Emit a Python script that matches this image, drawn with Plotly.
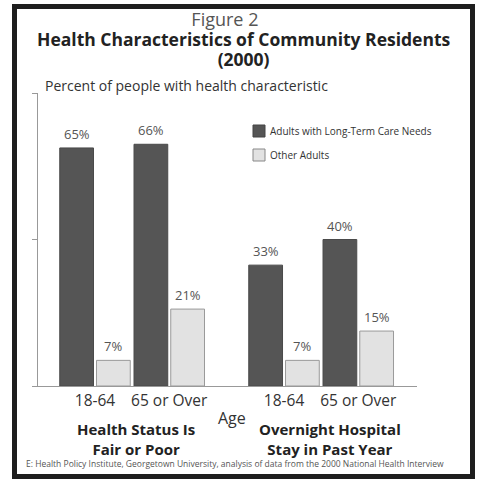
import plotly.graph_objects as go

# Chart data
age_groups = ["18-64", "65 or Over", "18-64", "65 or Over"]
measures = ["Health Status Is<br>Fair or Poor", "Overnight Hospital<br>Stay in Past Year"]
series_names = ["Adults with Long-Term Care Needs", "Other Adults"]
ltc_needs = [65, 66, 33, 40]
other_adults = [7, 21, 7, 15]
y_ticks = [0, 40, 80]

W, H = 477, 484
ML, MR, MT, MB = 38, 60, 93, 98
PW, PH = W - ML - MR, H - MT - MB


def fx(x):
    """Pixel x -> paper x."""
    return (x - ML) / PW


def fy(y):
    """Pixel y -> paper y."""
    return (H - MB - y) / PH


# category centres: two age groups per measure, measures separated by a wider gap
xpos = [g * 2.52 + i * 0.99 for g in range(len(measures)) for i in range(2)]

DARK = "#555555"
LIGHT = "#e2e2e2"
FONT = "Open Sans"

fig = go.Figure()
fig.add_trace(go.Bar(
    x=xpos, y=ltc_needs, name=series_names[0],
    width=0.45, offset=-0.47,
    marker=dict(color=DARK, line=dict(color="#4a4a4a", width=1)),
    showlegend=False,
))
fig.add_trace(go.Bar(
    x=xpos, y=other_adults, name=series_names[1],
    width=0.45, offset=0.02,
    marker=dict(color=LIGHT, line=dict(color="#9a9a9a", width=1)),
    showlegend=False,
))

annotations = []
# value labels above each bar
for xc, v in zip(xpos, ltc_needs):
    annotations.append(dict(x=xc - 0.245, y=v, xref="x", yref="y", text=f"{v}%",
                            yanchor="bottom", yshift=3,
                            font=dict(size=13, color="#555555")))
for xc, v in zip(xpos, other_adults):
    annotations.append(dict(x=xc + 0.245, y=v, xref="x", yref="y", text=f"{v}%",
                            yanchor="bottom", yshift=3,
                            font=dict(size=13, color="#555555")))

# three-line heading drawn as one text block; the figure number sits a little left of centre
heading = (
    "<span style='font-size:18px;color:#555555'>Figure 2" + "&nbsp;" * 8 + "</span><br>"
    "<b><span style='font-size:17.5px'>Health Characteristics of Community Residents</span></b><br>"
    "<b><span style='font-size:17.5px'>(2000)</span></b>"
)

annotations += [
    dict(x=fx(244), y=fy(39), text=heading, font=dict(size=15.4, color="#222222")),
    dict(x=fx(43), y=fy(85), text="Percent of people with health characteristic",
         xanchor="left", font=dict(size=14, color="#333333")),
    dict(x=fx(232), y=fy(418), text="Age", font=dict(size=16, color="#333333")),
    dict(x=fx(136), y=fy(439), text=f"<b>{measures[0]}</b>", font=dict(size=15, color="#222222")),
    dict(x=fx(330), y=fy(439), text=f"<b>{measures[1]}</b>", font=dict(size=15, color="#222222")),
    dict(x=fx(235), y=fy(463),
         text="E: Health Policy Institute, Georgetown University, analysis of data from the 2000 National Health Interview",
         font=dict(size=8.5, color="#555555")),
    # legend texts
    dict(x=fx(268), y=fy(131), text=series_names[0], xanchor="left",
         font=dict(size=10, color="#333333")),
    dict(x=fx(268), y=fy(155), text=series_names[1], xanchor="left",
         font=dict(size=10, color="#333333")),
]
for a in annotations:
    a.setdefault("xref", "paper")
    a.setdefault("yref", "paper")
    a.setdefault("xanchor", "center")
    a.setdefault("showarrow", False)
    a.setdefault("yanchor", "middle")

shapes = [
    # legend swatches
    dict(type="rect", xref="paper", yref="paper", x0=fx(253), x1=fx(265), y0=fy(137), y1=fy(125),
         fillcolor=DARK, line=dict(color="#444444", width=1)),
    dict(type="rect", xref="paper", yref="paper", x0=fx(253), x1=fx(265), y0=fy(161), y1=fy(149),
         fillcolor=LIGHT, line=dict(color="#888888", width=1)),
    # outer frame
    dict(type="rect", xref="paper", yref="paper", x0=fx(14.5), x1=fx(472.5), y0=fy(476.5), y1=fy(6.5),
         line=dict(color="#1e1e1e", width=5), layer="above"),
]

fig.update_layout(
    width=W, height=H,
    margin=dict(l=ML, r=MR, t=MT, b=MB, pad=0),
    paper_bgcolor="white", plot_bgcolor="white",
    font=dict(family=FONT, color="#333333"),
    barmode="overlay",
    annotations=annotations,
    shapes=shapes,
    xaxis=dict(range=[-0.76, 4.293], tickvals=xpos, ticktext=age_groups,
               showline=True, linecolor="#999999", linewidth=1, ticks="",
               showgrid=False, zeroline=False, tickfont=dict(size=15.5, color="#333333")),
    yaxis=dict(range=[0, 80], tickvals=y_ticks, showticklabels=False,
               showline=True, linecolor="#999999", linewidth=1, ticks="outside",
               ticklen=5, tickcolor="#999999", showgrid=False, zeroline=False),
)

fig.write_html("out.html")
